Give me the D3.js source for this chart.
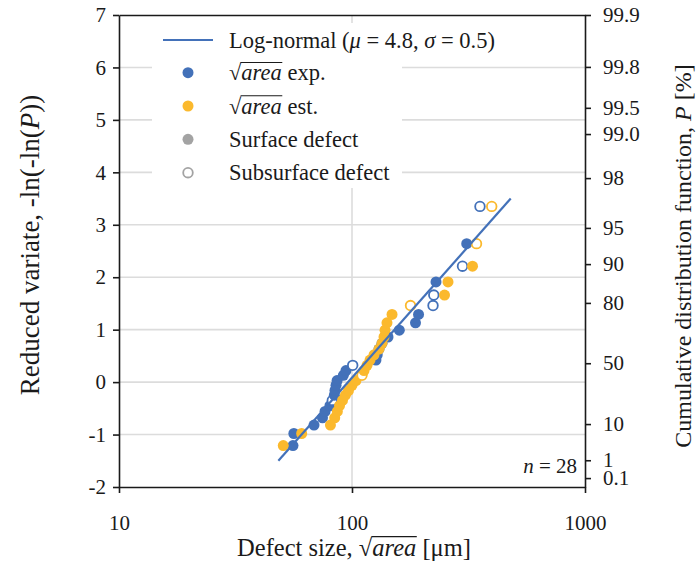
<!DOCTYPE html>
<html>
<head>
<meta charset="utf-8">
<script src="https://cdn.jsdelivr.net/npm/d3@7"></script>
<style>
  html, body { margin: 0; padding: 0; background: #ffffff; }
  svg { display: block; }
  text { font-family: "Liberation Serif", "Times New Roman", serif; fill: #1a1a1a; }
</style>
</head>
<body>
<svg id="chart" width="697" height="568"></svg>
<script>
// Reduced variate -ln(-ln(P)) of each ranked defect (n = 28)
const reducedVariate = [-1.21, -0.98, -0.82, -0.68, -0.56, -0.45, -0.35, -0.25, -0.16, -0.06,
  0.03, 0.13, 0.22, 0.32, 0.42, 0.52, 0.63, 0.74, 0.86, 0.99,
  1.13, 1.29, 1.46, 1.66, 1.91, 2.21, 2.64, 3.35];

// Experimental sqrt(area) [µm], ranked; 1 = subsurface defect
const expSize = [55.8, 56.3, 68.7, 74.7, 76.6, 80.4, 82.3, 84.0, 84.5, 85.4,
  86.3, 91.8, 94.2, 100.7, 126.7, 128.3, 130.6, 134.5, 142.7, 159.6,
  187.3, 193.0, 222.7, 224.4, 229.4, 298.0, 310.7, 354.2];
const expSubsurface = [0,0,0,0,0,0,1,0,0,0, 0,0,0,1,0,0,0,0,0,0, 0,0,1,1,0,1,0,1];

// Estimated sqrt(area) [µm], ranked; 1 = subsurface defect
const estSize = [50.7, 60.8, 80.8, 84.3, 86.5, 88.4, 91.0, 93.7, 96.6, 100.0,
  104.0, 110.4, 112.6, 116.0, 119.5, 124.3, 130.6, 134.5, 137.2, 138.6,
  141.3, 148.5, 178.3, 249.5, 258.2, 329.0, 342.3, 397.8];
const estSubsurface = [0,0,0,0,0,0,0,0,0,0, 0,1,0,0,0,0,0,0,0,0, 0,0,1,0,0,0,1,1];

// Fitted distribution line (end points)
const fitSize = [48.3, 480];
const fitVariate = [-1.5, 3.5];

// Axis ticks
const xTicks = [10, 100, 1000];
const yTicks = [-2, -1, 0, 1, 2, 3, 4, 5, 6, 7];
const cdfTickLabels = ["99.9", "99.8", "99.5", "99.0", "98", "95", "90", "80", "50", "10", "1", "0.1"];
const cdfTickVariate = [7.0, 6.01, 5.23, 4.73, 3.89, 2.94, 2.25, 1.51, 0.36, -0.80, -1.49, -1.83];

const BLUE = "#4371b9";
const ORANGE = "#fbb92d";
const GREY = "#a3a3a3";
const GRID = "#dcdcdc";
const AXIS = "#1a1a1a";
const FS = 21;        // tick labels
const FS_LEG = 22.5;  // legend

const svg = d3.select("#chart");
const plot = { left: 119, right: 585, top: 15, bottom: 487 };

const x = d3.scaleLog().domain([10, 1000]).range([plot.left, plot.right]);
const y = d3.scaleLinear().domain([-2, 7]).range([plot.bottom, plot.top]);

// Gridlines
const grid = svg.append("g");
grid.selectAll("line.h").data(yTicks.filter(d => d > -2 && d < 7)).join("line")
  .attr("x1", plot.left).attr("x2", plot.right)
  .attr("y1", d => y(d)).attr("y2", d => y(d))
  .attr("stroke", GRID).attr("stroke-width", 1.6);
grid.selectAll("line.v").data([100]).join("line")
  .attr("x1", d => x(d)).attr("x2", d => x(d))
  .attr("y1", plot.top).attr("y2", plot.bottom)
  .attr("stroke", GRID).attr("stroke-width", 1.6);

// Axes
function styleAxis(g) {
  g.selectAll("path.domain").attr("stroke", AXIS).attr("stroke-width", 1.6);
  g.selectAll(".tick line").attr("stroke", AXIS).attr("stroke-width", 1.6);
  g.selectAll(".tick text").style("font-size", FS + "px").attr("fill", AXIS)
    .style("font-family", "'Liberation Serif', 'Times New Roman', serif");
}

svg.append("g").attr("transform", `translate(${plot.left},0)`)
  .call(d3.axisLeft(y).tickValues(yTicks).tickFormat(d => String(d)).tickSize(6).tickSizeOuter(0).tickPadding(7))
  .call(styleAxis);

svg.append("g").attr("transform", `translate(0,${plot.bottom})`)
  .call(d3.axisBottom(x).tickValues(xTicks).tickFormat(d => String(d)).tickSize(6).tickSizeOuter(0).tickPadding(22))
  .call(styleAxis);

svg.append("g").attr("transform", `translate(0,${plot.top})`)
  .call(d3.axisTop(x).tickValues([]).tickSizeOuter(0))
  .call(styleAxis);

const yRight = d3.scaleLinear().domain(y.domain()).range(y.range());
svg.append("g").attr("transform", `translate(${plot.right},0)`)
  .call(d3.axisRight(yRight).tickValues(cdfTickVariate)
    .tickFormat((d, i) => cdfTickLabels[i]).tickSize(6).tickSizeOuter(0).tickPadding(12))
  .call(styleAxis);

// Legend background
svg.append("rect").attr("x", 152).attr("y", 23).attr("width", 250).attr("height", 165)
  .attr("fill", "#ffffff");

// Data markers
function drawSeries(sizes, subsurface, color) {
  const pts = sizes.map((s, i) => ({ s, v: reducedVariate[i], open: subsurface[i] === 1 }));
  svg.append("g").selectAll("circle").data(pts).join("circle")
    .attr("cx", d => x(d.s)).attr("cy", d => y(d.v))
    .attr("r", d => d.open ? 4.8 : 5.5)
    .attr("fill", d => d.open ? "#ffffff" : color)
    .attr("stroke", d => d.open ? color : "none")
    .attr("stroke-width", 1.8);
}
drawSeries(expSize, expSubsurface, BLUE);
drawSeries(estSize, estSubsurface, ORANGE);

// Fitted line
svg.append("path")
  .datum(fitSize.map((s, i) => [s, fitVariate[i]]))
  .attr("d", d3.line().x(d => x(d[0])).y(d => y(d[1])))
  .attr("fill", "none").attr("stroke", BLUE).attr("stroke-width", 2.2);

// Rich text helper: segments of {t, i (italic), rad (radical with overline)}
function richText(parent, tx, ty, segments, opts = {}) {
  const size = opts.size || FS;
  const g = parent.append("g").attr("transform", `translate(${tx},${ty}) rotate(${opts.rotate || 0})`);
  const text = g.append("text").attr("x", 0).attr("y", 0)
    .attr("text-anchor", opts.anchor || "start")
    .style("font-size", size + "px");
  const radicals = [];
  let idx = 0;
  segments.forEach(seg => {
    if (seg.rad) {
      text.append("tspan").text("\u221A");
      radicals.push({ start: idx, len: seg.t.length + 1 });
      idx += 1;
    }
    text.append("tspan").text(seg.t).style("font-style", seg.i ? "italic" : "normal");
    idx += seg.t.length;
  });
  radicals.forEach(r => {
    const x0 = text.node().getEndPositionOfChar(r.start).x - 0.8;
    const x1 = text.node().getEndPositionOfChar(r.start + r.len - 1).x + 0.5;
    g.append("line").attr("x1", x0).attr("x2", x1)
      .attr("y1", -size * 0.79).attr("y2", -size * 0.79)
      .attr("stroke", AXIS).attr("stroke-width", 1.1);
  });
  return g;
}

// Axis titles
richText(svg, 354, 556, [{ t: "Defect size, " }, { t: "area", i: true, rad: true }, { t: " [\u03BCm]" }],
  { anchor: "middle", size: 24.5 });
richText(svg, 39, 245, [{ t: "Reduced variate, -ln(-ln(" }, { t: "P", i: true }, { t: "))" }],
  { anchor: "middle", rotate: -90, size: 27 });
richText(svg, 691, 256, [{ t: "Cumulative distribution function, " }, { t: "P", i: true }, { t: " [%]" }],
  { anchor: "middle", rotate: -90, size: 24 });

// Sample size
richText(svg, 577, 473, [{ t: "n", i: true }, { t: " = 28" }], { anchor: "end" });

// Legend
const legend = svg.append("g");
const lx = 188, tx = 229;
const rows = [40, 72.7, 106, 139.3, 172.7];
legend.append("line").attr("x1", 163).attr("x2", 213).attr("y1", rows[0]).attr("y2", rows[0])
  .attr("stroke", BLUE).attr("stroke-width", 2.2);
legend.append("circle").attr("cx", lx).attr("cy", rows[1]).attr("r", 5.5).attr("fill", BLUE);
legend.append("circle").attr("cx", lx).attr("cy", rows[2]).attr("r", 5.5).attr("fill", ORANGE);
legend.append("circle").attr("cx", lx).attr("cy", rows[3]).attr("r", 5.5).attr("fill", GREY);
legend.append("circle").attr("cx", lx).attr("cy", rows[4]).attr("r", 4.8).attr("fill", "#fff")
  .attr("stroke", GREY).attr("stroke-width", 1.8);
const base = 7.5;
const legOpts = { size: FS_LEG };
richText(legend, tx, rows[0] + base, [{ t: "Log-normal (" }, { t: "\u03BC", i: true }, { t: " = 4.8, " }, { t: "\u03C3", i: true }, { t: " = 0.5)" }], legOpts);
richText(legend, tx, rows[1] + base, [{ t: "area", i: true, rad: true }, { t: " exp." }], legOpts);
richText(legend, tx, rows[2] + base, [{ t: "area", i: true, rad: true }, { t: " est." }], legOpts);
richText(legend, tx, rows[3] + base, [{ t: "Surface defect" }], legOpts);
richText(legend, tx, rows[4] + base, [{ t: "Subsurface defect" }], legOpts);
</script>
</body>
</html>
